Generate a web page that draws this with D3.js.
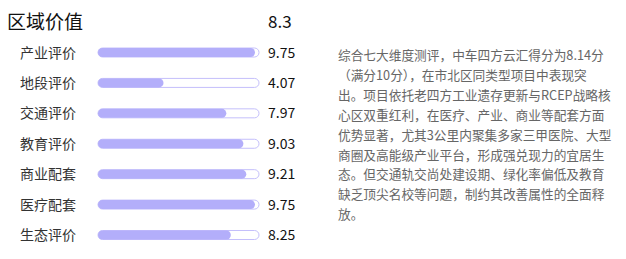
<!DOCTYPE html>
<html>
<head>
<meta charset="utf-8">
<script src="https://cdn.jsdelivr.net/npm/d3@7"></script>
<style>
  html, body { margin: 0; padding: 0; background: #fff; }
  svg { display: block; }
</style>
</head>
<body>
<div id="chart"></div>
<script>
// 数据
const titleText = '区域价值';
const totalScore = '8.3';
const categories = ['产业评价', '地段评价', '交通评价', '教育评价', '商业配套', '医疗配套', '生态评价'];
const scores = [9.75, 4.07, 7.97, 9.03, 9.21, 9.75, 8.25];
const scoreLabels = ['9.75', '4.07', '7.97', '9.03', '9.21', '9.75', '8.25'];
const descLines = [
  '综合七大维度测评，中车四方云汇得分为8.14分',
  '（满分10分），在市北区同类型项目中表现突',
  '出。项目依托老四方工业遗存更新与RCEP战略核',
  '心区双重红利，在医疗、产业、商业等配套方面',
  '优势显著，尤其3公里内聚集多家三甲医院、大型',
  '商圈及高能级产业平台，形成强兑现力的宜居生',
  '态。但交通轨交尚处建设期、绿化率偏低及教育',
  '缺乏顶尖名校等问题，制约其改善属性的全面释',
  '放。'
];

const svgwidth = 626;
const svgheight = 259;
const font = "'Noto Sans CJK SC', 'Noto Sans', sans-serif";

const svg = d3.select('#chart').append('svg')
  .attr('width', svgwidth)
  .attr('height', svgheight);

// 标题
svg.append('text')
  .attr('x', 7)
  .attr('y', 29)
  .attr('font-family', font)
  .attr('font-size', '19px')
  .attr('fill', '#111')
  .text(titleText);
svg.append('text')
  .attr('x', 268)
  .attr('y', 28)
  .attr('font-family', font)
  .attr('font-size', '17px')
  .attr('fill', '#111')
  .text(totalScore);

// 比例尺
const x = d3.scaleLinear().domain([0, 10]).range([0, 161]);
const y = d3.scalePoint().domain(categories).range([52.5, 235]);
const barX = 98;
const barH = 9;

const rows = svg.append('g').selectAll('.row')
  .data(categories)
  .enter()
  .append('g')
  .attr('class', 'row')
  .attr('transform', d => `translate(0,${y(d)})`);

rows.append('text')
  .attr('x', 20)
  .attr('y', 0)
  .attr('dy', '0.36em')
  .attr('font-family', font)
  .attr('font-size', '14px')
  .attr('fill', '#333')
  .text(d => d);

// 背景条
rows.append('rect')
  .attr('x', barX)
  .attr('y', -barH / 2)
  .attr('width', x(10))
  .attr('height', barH)
  .attr('rx', barH / 2)
  .attr('fill', '#fff')
  .attr('stroke', '#c4bffb')
  .attr('stroke-width', 1);

// 得分条
rows.append('rect')
  .attr('x', barX)
  .attr('y', -barH / 2)
  .attr('width', (d, i) => x(scores[i]))
  .attr('height', barH)
  .attr('rx', barH / 2)
  .attr('fill', '#b3aefa');

rows.append('text')
  .attr('x', 268)
  .attr('y', 0)
  .attr('dy', '0.36em')
  .attr('font-family', font)
  .attr('font-size', '14px')
  .attr('fill', '#111')
  .text((d, i) => scoreLabels[i]);

// 右侧说明文字
const desc = svg.append('text')
  .attr('font-family', font)
  .attr('font-size', '12.7px')
  .attr('fill', '#666');
desc.selectAll('tspan')
  .data(descLines)
  .enter()
  .append('tspan')
  .attr('x', 338)
  .attr('y', (d, i) => 60 + i * 19.9)
  .text(d => d);
</script>
</body>
</html>
